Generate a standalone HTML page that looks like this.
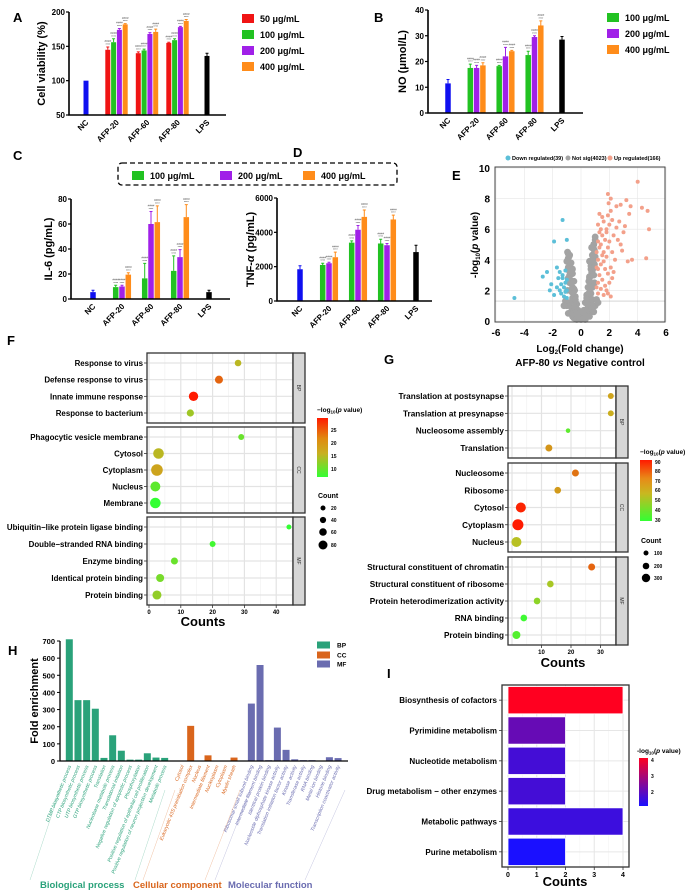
<!DOCTYPE html>
<html><head><meta charset="utf-8">
<style>
html,body{margin:0;padding:0;background:#fff;}
svg{display:block;font-family:"Liberation Sans",Arial,sans-serif;}
</style></head>
<body>
<svg id="fig" xmlns="http://www.w3.org/2000/svg" width="693" height="896" viewBox="0 0 693 896">
<defs>
<linearGradient id="gF" x1="0" y1="0" x2="0" y2="1"><stop offset="0" stop-color="#ff1a00"/><stop offset="0.35" stop-color="#e08a10"/><stop offset="0.6" stop-color="#c8b020"/><stop offset="1" stop-color="#33ff33"/></linearGradient>
<linearGradient id="gG" x1="0" y1="0" x2="0" y2="1"><stop offset="0" stop-color="#ff1a00"/><stop offset="0.3" stop-color="#e88a18"/><stop offset="0.55" stop-color="#c8b820"/><stop offset="1" stop-color="#33ff33"/></linearGradient>
<linearGradient id="gI" x1="0" y1="0" x2="0" y2="1"><stop offset="0" stop-color="#ff0020"/><stop offset="1" stop-color="#1a10ff"/></linearGradient>
</defs>
</svg>
<script>
// ---------- DATA ----------
const barCats=['NC','AFP-20','AFP-60','AFP-80','LPS'];
const A_ticks=[50,100,150,200];
const A_nc=[100]; const A_lps=[136]; const A_lpsErr=[4];
const A_c50=[145,140,155]; const A_c100=[156,144,159]; const A_c200=[174,168,178]; const A_c400=[182,171,187];
const A_e50=[4,2,1]; const A_e100=[5,2,2]; const A_e200=[2,2,1]; const A_e400=[1,4,2];
const B_ticks=[0,10,20,30,40];
const B_nc=[11.5]; const B_ncErr=[1.5]; const B_lps=[28.5]; const B_lpsErr=[1.2];
const B_c100=[17.5,18.2,22.5]; const B_c200=[17.5,22,29.5]; const B_c400=[18.5,24,34];
const B_e100=[1.5,0.3,1.5]; const B_e200=[1,3.5,0.5]; const B_e400=[1,0.3,1.8];
const C_ticks=[0,20,40,60,80];
const C_nc=[5.5]; const C_ncErr=[1.5]; const C_lps=[5.5]; const C_lpsErr=[1.5];
const C_c100=[9.5,16.5,22.5]; const C_c200=[10,60,33.5]; const C_c400=[19.5,61.5,65.5];
const C_e100=[1.5,12,12]; const C_e200=[1,10,6]; const C_e400=[1.5,13,10];
const D_ticks=[0,2000,4000,6000];
const D_nc=[1850]; const D_ncErr=[200]; const D_lps=[2850]; const D_lpsErr=[400];
const D_c100=[2100,3400,3350]; const D_c200=[2200,4150,3250]; const D_c400=[2550,4900,4750];
const D_e100=[100,100,250]; const D_e200=[60,250,100]; const D_e400=[300,400,250];

const volX_ticks=[-6,-4,-2,0,2,4,6]; const volY_ticks=[0,2,4,6,8,10];
const volDown=[[-4.7,1.5],[-2.7,2.9],[-2.4,3.2],[-2.1,2.4],[-1.9,5.2],[-1.3,6.6],[-1.0,5.3],[-1.7,3.5],[-1.5,3.2],[-1.3,2.8],[-1.1,2.5],[-1.0,2.0],[-1.5,2.0],[-1.7,2.2],[-1.2,1.6],[-1.4,1.8],[-2.2,2.0],[-1.1,3.3],[-1.0,1.5],[-1.3,3.0],[-1.6,2.8],[-1.0,2.7],[-1.2,2.2],[-1.9,1.7],[-1.1,1.9],[-1.4,2.4]];
const volNS=[[-0.9,4.4],[-0.8,3.8],[-0.7,3.2],[-0.6,2.6],[-0.5,2.1],[-0.4,1.6],[-0.3,1.1],[-0.2,0.7],[-0.1,0.3],[0,0.1],[0.1,0.3],[0.2,0.7],[0.3,1.2],[0.4,1.7],[0.5,2.2],[0.6,2.8],[0.7,3.4],[0.8,4.0],[0.9,4.7],[1.0,5.3],[1.0,4.2],[0.9,3.0],[0.8,2.2],[0.7,1.8],[-0.9,3.5],[-0.8,2.5],[-0.7,2.0],[-0.6,1.5],[-0.95,2.0],[-0.9,1.2],[-0.5,0.8],[-0.3,0.3],[0.3,0.4],[0.5,0.9],[0.6,1.2],[0.8,1.4],[0.95,2.5],[1.0,1.0],[-1.0,1.0],[-0.7,0.6],[0.7,0.6],[-0.9,0.5],[0.9,0.6],[-0.4,0.3],[0.4,0.3],[-0.6,3.4],[0.6,3.9],[-1.0,3.9],[0.95,3.7],[-0.8,1.0],[0.8,1.0],[-1.1,1.3],[1.1,1.4],[-0.2,0.2],[0.2,0.2],[0,0.4],[-0.5,1.3],[0.5,1.5],[-0.8,3.0],[0.8,3.3],[0.9,5.0],[-0.85,4.2],[-1.2,1.0],[1.2,1.2],[-0.6,0.3],[0.6,0.3],
 [-0.5,0.2],[-0.3,0.1],[0.3,0.1],[0.45,0.3],[-0.55,0.5],[-0.45,0.9],[-0.3,0.6],[0.35,0.7],[0.45,1.1],[-0.6,1.3],[-0.4,1.4],[0.4,1.5],[0.55,1.8],[-0.65,1.9],[-0.45,2.0],[0.5,2.2],[0.65,2.5],[-0.7,2.5],[-0.5,2.6],[0.6,2.9],[0.75,3.2],[-0.75,3.0],[-0.6,3.1],[0.7,3.6],[0.85,3.9],[-0.8,3.6],[-0.7,3.8],[0.8,4.3],[0.95,4.6],[-0.9,4.1],[0.9,5.0],[1.0,5.5],[-0.95,4.5],[-0.8,4.3],[0.75,4.8],[-0.2,0.3],[0.2,0.4],[0,0.2],[-0.1,0.5],[0.1,0.6],[-0.6,2.2],[0.55,2.6],[-0.9,2.8],[0.85,3.0],[-0.85,3.3],[0.95,3.5]];
const volUp=[[4.0,9.1],[1.9,8.3],[2.1,8.0],[1.95,7.7],[2.8,7.6],[3.2,7.9],[3.5,7.5],[4.3,7.4],[4.7,7.2],[2.5,7.5],[1.3,7.0],[4.8,6.0],[3.0,5.8],[3.1,6.2],[2.2,6.6],[1.6,6.5],[1.8,6.0],[4.6,4.1],[3.3,3.9],[3.6,4.0],[2.1,1.6],[1.2,6.3],[1.4,6.0],[1.5,5.6],[1.2,5.2],[1.3,4.8],[1.6,4.5],[1.8,4.2],[1.2,4.0],[1.4,3.7],[1.7,3.4],[1.9,3.1],[1.3,3.0],[1.5,2.7],[1.2,2.5],[1.7,2.3],[1.4,2.1],[1.2,1.8],[1.6,1.7],[2.0,2.5],[2.1,3.5],[2.2,4.5],[2.0,5.2],[2.3,5.6],[2.5,6.1],[2.6,5.3],[2.8,5.0],[2.9,4.6],[2.4,4.0],[1.9,4.8],[1.7,5.3],[1.5,6.8],[1.9,6.9],[2.1,7.2],[1.3,5.8],[1.1,4.5],[1.1,3.5],[1.1,2.2],[1.8,2.0],[2.2,2.8],[1.6,3.9],[2.3,3.2],[1.5,4.3],[2.7,6.5],[1.4,5.0],[1.8,5.8],[2.0,6.3],[1.2,3.4],[1.9,1.8],[3.4,7.0]];

const F_labels=['Response to virus','Defense response to virus','Innate immune response','Response to bacterium','Phagocytic vesicle membrane','Cytosol','Cytoplasm','Nucleus','Membrane','Ubiquitin\u2212like protein ligase binding','Double\u2212stranded RNA binding','Enzyme binding','Identical protein binding','Protein binding'];
const F_counts=[28,22,14,13,29,3,2.5,2,2,44,20,8,3.5,2.5];
const F_sizes=[44,65,85,53,35,103,118,94,103,20,35,50,65,80];
const F_pvals=[16,23,29,14,10,16,18,9,6,6,7,10,11,13];
const F_facets=['BP','CC','MF']; const F_facetN=[4,5,5];
const F_xticks=[0,10,20,30,40];
const G_labels=['Translation at postsynapse','Translation at presynapse','Nucleosome assembly','Translation','Nucleosome','Ribosome','Cytosol','Cytoplasm','Nucleus','Structural constituent of chromatin','Structural constituent of ribosome','Protein heterodimerization activity','RNA binding','Protein binding'];
const G_counts=[33.5,33.5,19,12.5,21.5,15.5,3,2,1.5,27,13,8.5,4,1.5];
const G_sizes=[150,150,70,210,210,190,390,450,390,210,190,190,190,270];
const G_pvals=[62,60,38,65,72,64,88,90,55,75,52,47,32,36];
const G_facetN=[4,5,5];
const G_xticks=[10,20,30];

const H_bpLabels=['DTMP biosynthetic process','CTP biosynthetic process','UTP biosynthetic process','GTP biosynthetic process','Translation','Nucleobase metabolic process','Translational initiation','Negative regulation of apoptotic process','Phosphorylation','Positive regulation of epithelial cell proliferation','Positive regulation of neuron projection development','Metabolic process'];
const H_bpVals=[710,355,355,305,18,150,60,8,8,45,20,18];
const H_ccLabels=['Cytosol','Eukaryotic 43S preinitiation complex','Nucleus','Intermediate filament','Nucleoplasm','Cytoplasm','Myelin sheath'];
const H_ccVals=[2,205,2,33,2,2,20];
const H_mfLabels=['Ribosomal small subunit binding','Intermediate filament binding','Identical protein binding','Nucleoside diphosphate kinase activity','Translation initiation factor activity','Kinase activity','Transferase activity','RNA binding','Metal ion binding','Histone binding','Transcription coactivator activity'];
const H_mfVals=[335,560,5,195,65,10,5,5,2,22,17];
const H_ticks=[0,100,200,300,400,500,600,700];

const I_labels=['Biosynthesis of cofactors','Pyrimidine metabolism','Nucleotide metabolism','Drug metabolism \u2212 other enzymes','Metabolic pathways','Purine metabolism'];
const I_counts=[4,2,2,2,4,2];
const I_pvals=[4.2,2.4,2.0,2.0,1.9,1.5];
const I_ticks=[0,1,2,3,4];

// ---------- HELPERS ----------
const NS='http://www.w3.org/2000/svg';
const svg=document.getElementById('fig');
function mk(tag,attrs,parent){const e=document.createElementNS(NS,tag);for(const k in attrs)e.setAttribute(k,attrs[k]);(parent||svg).appendChild(e);return e;}
function tx(x,y,s,size,extra){const a=Object.assign({x:x,y:y,'font-size':size,'font-weight':'bold',fill:'#000'},extra||{});const e=mk('text',a);e.textContent=s;return e;}
function lerpHex(c1,c2,t){const a=[1,3,5].map(i=>parseInt(c1.substr(i,2),16)),b=[1,3,5].map(i=>parseInt(c2.substr(i,2),16));return 'rgb('+a.map((v,i)=>Math.round(v+(b[i]-v)*t)).join(',')+')';}
function ramp3(v,lo,mid,hi,cLo,cMid,cHi){if(v<=mid)return lerpHex(cLo,cMid,Math.max(0,(v-lo)/(mid-lo)));return lerpHex(cMid,cHi,Math.min(1,(v-mid)/(hi-mid)));}

const COL={c50:'#f01414',c100:'#22c222',c200:'#a020e8',c400:'#ff8c1a',nc:'#1010f0',lps:'#000000'};

[['A',13,22],['B',374,22],['C',13,160],['D',293,157],['E',452,180],['F',7,345],['G',384,364],['H',8,655],['I',387,678]].forEach(p=>{
 const t=tx(p[1],p[2],p[0],13);
 
 
});

// ---------- BAR CHARTS ----------
function barChart(id,ax,xEnd,yTop,yBot,vmin,vmax,ticks,centers,nc,ncErr,lps,lpsErr,series,errs,colors,bw,title,titleX){
 const y=v=>yBot-(v-vmin)/(vmax-vmin)*(yBot-yTop);
 const g=mk('g',{});
 
 
 function bar(cx,v,e,c,nm){
  const r=mk('rect',{x:cx-bw/2,y:y(v),width:bw,height:yBot-y(v),fill:c},g);
  
  
  if(e>0){
   const l=mk('path',{d:`M${cx} ${y(v)}V${y(v+e)}M${cx-1.5} ${y(v+e)}H${cx+1.5}`,stroke:c,'stroke-width':1,fill:'none'},g);
   
   
  }
 }
 bar(centers[0],nc[0],ncErr[0],COL.nc,'bar-nc');
 const n=series.length;
 for(let k=0;k<n;k++){for(let gi=0;gi<3;gi++){
  const cx=centers[gi+1]+(k-(n-1)/2)*(bw+0.8);
  bar(cx,series[k][gi],errs[k][gi],colors[k],'bar-'+barCats[gi+1].toLowerCase()+'-'+k);
  const v=series[k][gi]+errs[k][gi];
  const st=mk('text',{x:cx,y:y(v)-1.5,'font-size':3,'text-anchor':'middle',fill:'#333'},g);st.textContent='****';
  
  
  const st2=mk('text',{x:cx,y:y(v)-4.8,'font-size':3,'text-anchor':'middle',fill:'#666','font-style':'italic'},g);st2.textContent='####';
  
  
 }}
 bar(centers[4],lps[0],lpsErr[0],COL.lps,'bar-lps');
 const axl=mk('path',{d:`M${ax} ${yTop}V${yBot}H${xEnd}`,stroke:'#000','stroke-width':1.6,fill:'none'},g);
 
 
 ticks.forEach(t=>{
  const tl=mk('line',{x1:ax-3,x2:ax,y1:y(t),y2:y(t),stroke:'#000','stroke-width':1.2},g);
  
  
  const tt=tx(ax-4,y(t)+3,String(t),8,{'text-anchor':'end'});
  
  
 });
 barCats.forEach((c,i)=>{
  const t=tx(centers[i]+3,yBot+8,c,8,{'text-anchor':'end',transform:`rotate(-45 ${centers[i]+3} ${yBot+8})`});
  
  
 });
 const cy=(yTop+yBot)/2;
 const tt=tx(titleX,cy,'',11,{'text-anchor':'middle',transform:`rotate(-90 ${titleX} ${cy})`});
 tt.innerHTML=title;
 
 
}
const cA=[86,116.5,147,177.5,207];
barChart('a',69,226,12,115,50,200,A_ticks,cA,A_nc,[0],A_lps,A_lpsErr,[A_c50,A_c100,A_c200,A_c400],[A_e50,A_e100,A_e200,A_e400],[COL.c50,COL.c100,COL.c200,COL.c400],5,'Cell viability (%)',45);
const cB=[448,476.6,505.5,534.5,562];
barChart('b',428,583,10,113,0,40,B_ticks,cB,B_nc,B_ncErr,B_lps,B_lpsErr,[B_c100,B_c200,B_c400],[B_e100,B_e200,B_e400],[COL.c100,COL.c200,COL.c400],5.5,'NO (μmol/L)',406);
const cC=[93,122,151,180,209];
barChart('c',71,230,199,299,0,80,C_ticks,cC,C_nc,C_ncErr,C_lps,C_lpsErr,[C_c100,C_c200,C_c400],[C_e100,C_e200,C_e400],[COL.c100,COL.c200,COL.c400],5.5,'IL-6 (pg/mL)',52);
const cD=[300,329,358,387,416];
barChart('d',277,432,198,301,0,6000,D_ticks,cD,D_nc,D_ncErr,D_lps,D_lpsErr,[D_c100,D_c200,D_c400],[D_e100,D_e200,D_e400],[COL.c100,COL.c200,COL.c400],5.5,'TNF-<tspan font-style="italic">α</tspan> (pg/mL)',254);

function legItem(x,y,c,s,size){
 const r=mk('rect',{x:x,y:y-8,width:12,height:9,fill:c});
 
 
 const t=tx(x+18,y,s,size||9);
 
 
}
legItem(242,22,COL.c50,'50 μg/mL');legItem(242,38,COL.c100,'100 μg/mL');legItem(242,54,COL.c200,'200 μg/mL');legItem(242,70,COL.c400,'400 μg/mL');
legItem(607,21,COL.c100,'100 μg/mL');legItem(607,37,COL.c200,'200 μg/mL');legItem(607,53,COL.c400,'400 μg/mL');
const lbox=mk('rect',{x:118,y:163,width:279,height:22,rx:4,fill:'none',stroke:'#000','stroke-width':1.3,'stroke-dasharray':'5,3'});


legItem(132,179,COL.c100,'100 μg/mL');legItem(220,179,COL.c200,'200 μg/mL');legItem(303,179,COL.c400,'400 μg/mL');

// ---------- VOLCANO ----------
(function(){
 const vx=v=>581+v*14.17, vy=v=>321-v*15.3;
 const L=495,R=665,T=167,B=322;
 const bg=mk('rect',{x:L,y:T,width:R-L,height:B-T,fill:'#fff'});
 
 
 volX_ticks.forEach(t=>{const l=mk('line',{x1:vx(t),x2:vx(t),y1:T,y2:B,stroke:'#e6e6e6','stroke-width':0.6});});
 volY_ticks.forEach(t=>{const l=mk('line',{x1:L,x2:R,y1:vy(t),y2:vy(t),stroke:'#e6e6e6','stroke-width':0.6});});
 const th=mk('line',{x1:L,x2:R,y1:vy(1.3),y2:vy(1.3),stroke:'#bbb','stroke-width':0.6});
 
 
 volNS.forEach(p=>{const c=mk('circle',{cx:vx(p[0]),cy:vy(p[1]),r:3.4,fill:'#a3a3a3'});});
 volDown.forEach(p=>{const c=mk('circle',{cx:vx(p[0]),cy:vy(p[1]),r:2,fill:'#5cbfd8'});});
 volUp.forEach(p=>{const c=mk('circle',{cx:vx(p[0]),cy:vy(p[1]),r:2,fill:'#f3a08a'});});
 const fr=mk('rect',{x:L,y:T,width:R-L,height:B-T,fill:'none',stroke:'#444','stroke-width':1});
 
 
 volY_ticks.forEach(t=>{const s=tx(L-5,vy(t)+4,String(t),10,{'text-anchor':'end'});});
 volX_ticks.forEach(t=>{const s=tx(vx(t),B+14,String(t),10,{'text-anchor':'middle'});});
 const yt=tx(478,245,'',10,{'text-anchor':'middle',transform:'rotate(-90 478 245)'});
 yt.innerHTML='-log<tspan font-size="6" dy="2">10</tspan><tspan dy="-2">(</tspan><tspan font-style="italic">p</tspan> value)';
 
 
 const xt=tx(580,352,'',10,{'text-anchor':'middle'});
 xt.innerHTML='Log<tspan font-size="6" dy="2">2</tspan><tspan dy="-2">(Fold change)</tspan>';
 
 
 const xt2=tx(580,366,'',10,{'text-anchor':'middle'});
 xt2.innerHTML='AFP-80 <tspan font-style="italic">vs</tspan> Negative control';
 
 
 [[508,'#5cbfd8','Down regulated(39)'],[568,'#a3a3a3','Not sig(4023)'],[610,'#f3a08a','Up regulated(166)']].forEach(l=>{
  const c=mk('circle',{cx:l[0],cy:158,r:2.5,fill:l[1]});
  const t=tx(l[0]+4,160,l[2],5.5);
 });
})();

// ---------- DOT PLOTS F, G ----------
function dotPlot(id,labels,counts,sizes,pvals,facetN,facets,left,right,x0,scale,xticks,minorStep,majorStep,xmaxGrid,rfn,cfn,lblSize){
 let idx=0;
 facets.forEach((f,fi)=>{
  const top=f[0],bot=f[1],n=facetN[fi];
  const bg=mk('rect',{x:left,y:top,width:right-left,height:bot-top,fill:'#fff'});
  
  
  for(let v=0;v<=xmaxGrid;v+=minorStep){
   const major=(v%majorStep===0);
   const l=mk('line',{x1:x0+v*scale,x2:x0+v*scale,y1:top,y2:bot,stroke:major?'#e3e3e3':'#efefef','stroke-width':major?1.2:0.6});
   
  }
  const sp=(bot-top-20)/(n-1);
  for(let i=0;i<n;i++){
   const yy=top+10+i*sp;
   const l=mk('line',{x1:left,x2:right,y1:yy,y2:yy,stroke:'#e3e3e3','stroke-width':1.2});
   
   const tk=mk('line',{x1:left-3,x2:left,y1:yy,y2:yy,stroke:'#333','stroke-width':0.8});
   
   const t=tx(left-4,yy+3,labels[idx],lblSize,{'text-anchor':'end'});
   
   const c=mk('circle',{cx:x0+counts[idx]*scale,cy:yy,r:rfn(sizes[idx]),fill:cfn(pvals[idx])});
   
   
   idx++;
  }
  const fr=mk('rect',{x:left,y:top,width:right-left,height:bot-top,fill:'none',stroke:'#333','stroke-width':1.3});
  
  const st=mk('rect',{x:right,y:top,width:12,height:bot-top,fill:'#d6d6d6',stroke:'#333','stroke-width':1.3});
  
  const cy=(top+bot)/2;
  const s=tx(right+4,cy,F_facets[fi],5,{'text-anchor':'middle','font-weight':'normal',fill:'#333',transform:`rotate(90 ${right+4} ${cy})`});
  
 });
 const lastBot=facets[facets.length-1][1];
 xticks.forEach(t=>{
  const tk=mk('line',{x1:x0+t*scale,x2:x0+t*scale,y1:lastBot,y2:lastBot+3,stroke:'#333','stroke-width':0.8});
  
  const s=tx(x0+t*scale,lastBot+9,String(t),6,{'text-anchor':'middle'});
  
 });
}
dotPlot('f',F_labels,F_counts,F_sizes,F_pvals,F_facetN,[[353,423],[427,513],[517,605]],147,293,149,3.18,F_xticks,5,10,45,
 s=>1.8+0.034*s, p=>ramp3(p,6,17,29,'#33ff33','#c8b020','#ff1a00'),7.9);
const fc=tx(203,626,'Counts',13,{'text-anchor':'middle'});

dotPlot('g',G_labels,G_counts,G_sizes,G_pvals,G_facetN,[[386,458],[463,552],[557,645]],508,616,512,2.95,G_xticks,5,10,35,
 s=>1.7+0.0085*s, p=>ramp3(p,30,58,90,'#33ff33','#c8b820','#ff1a00'),8.2);
const gc=tx(563,667,'Counts',13,{'text-anchor':'middle'});


function colorLegend(x,y,w,h,grad,title,labels,labelYs,countTitleY,countVals,countYs,countR){
 const t=tx(x,y-6,'',6.5);
 t.innerHTML='\u2212log<tspan font-size="4.5" dy="1.5">10</tspan><tspan dy="-1.5">(</tspan><tspan font-style="italic">p</tspan> value)';
 
 const r=mk('rect',{x:x,y:y,width:w,height:h,fill:'url(#'+grad+')'});
 
 labels.forEach((l,i)=>{const s=tx(x+w+3,labelYs[i]+2,String(l),5);});
 if(countVals){
  const ct=tx(x+1,countTitleY,'Count',7);
  
  countVals.forEach((v,i)=>{
   const c=mk('circle',{cx:x+6,cy:countYs[i],r:countR[i],fill:'#000'});
   
   const s=tx(x+14,countYs[i]+2,String(v),5);
  });
 }
}
colorLegend(317,418,11,59,'gF','',[25,20,15,10],[430,443,456,469],498,[20,40,60,80],[508,520,532,545],[2.5,3.1,3.8,4.5]);
colorLegend(640,460,12,61,'gG','',[90,80,70,60,50,40,30],[462,471,481,490,500,510,520],543,[100,200,300],[553,566,578],[2.5,3.3,4.2]);

// ---------- H ----------
(function(){
 const ax=60,yB=761,yT=641,x0=69.3,step=8.67,bw=7;
 const y=v=>yB-v/700*(yB-yT);
 const groups=[[H_bpLabels,H_bpVals,0,'#2aa27a','bp'],[H_ccLabels,H_ccVals,13,'#d9651c','cc'],[H_mfLabels,H_mfVals,21,'#6a6cb0','mf']];
 groups.forEach(g=>{
  g[1].forEach((v,i)=>{
   const cx=x0+(g[2]+i)*step;
   const r=mk('rect',{x:cx-bw/2,y:y(v),width:bw,height:yB-y(v),fill:g[3]});
   
   const lx=cx+2,ly=yB+5;
   const t=tx(lx,ly,g[0][i],5,{'text-anchor':'end','font-weight':'normal','font-style':'italic',fill:g[3],transform:`rotate(-68 ${lx} ${ly})`});
   
  });
 });
 const axl=mk('path',{d:`M${ax} ${yT}V${yB}H348`,stroke:'#000','stroke-width':1.3,fill:'none'});
 
 H_ticks.forEach(t=>{
  const l=mk('line',{x1:ax-3,x2:ax,y1:y(t),y2:y(t),stroke:'#000','stroke-width':1});
  
  const s=tx(ax-5,y(t)+3,String(t),7.5,{'text-anchor':'end'});
  
 });
 const yt=tx(38,701,'Fold enrichment',11,{'text-anchor':'middle',transform:'rotate(-90 38 701)'});
 
 [[40,'#2aa27a','Biological process','bp'],[133,'#d9651c','Cellular component','cc'],[228,'#6a6cb0','Molecular function','mf']].forEach(g=>{
  const s=tx(g[0],888,g[2],9.5,{fill:g[1]});
  
 });
 [[30,880,60,790,'#2aa27a'],[135,880,165,790,'#2aa27a'],[143,880,175,790,'#d9651c'],[205,880,240,790,'#d9651c'],[215,880,250,790,'#6a6cb0'],[305,880,345,790,'#6a6cb0']].forEach(l=>{
  const ln=mk('line',{x1:l[0],y1:l[1],x2:l[2],y2:l[3],stroke:l[4],'stroke-width':0.4,opacity:0.5});
  
 });
 [[645,'#2aa27a','BP'],[655,'#d9651c','CC'],[664,'#6a6cb0','MF']].forEach(l=>{
  const r=mk('rect',{x:317,y:l[0]-3.5,width:13,height:7,fill:l[1]});
  
  const s=tx(337,l[0]+2.5,l[2],6.5);
  
 });
})();

// ---------- I ----------
(function(){
 const L=502,R=629,T=685,B=867,x0=508,sc=28.75;
 const bg=mk('rect',{x:L,y:T,width:R-L,height:B-T,fill:'#fff'});
 
 for(let v=0;v<=4;v+=0.5){
  const l=mk('line',{x1:x0+v*sc,x2:x0+v*sc,y1:T,y2:B,stroke:v%1===0?'#e6e6e6':'#f2f2f2','stroke-width':v%1===0?1:0.5});
  
 }
 const sp=(B-T)/I_labels.length;
 I_labels.forEach((lab,i)=>{
  const cy=T+sp*(i+0.5);
  const l=mk('line',{x1:L,x2:R,y1:cy,y2:cy,stroke:'#e6e6e6','stroke-width':1});
  
  const col=lerpHex('#1a10ff','#ff0020',Math.max(0,Math.min(1,(I_pvals[i]-1.5)/(4.2-1.5))));
  const r=mk('rect',{x:x0,y:cy-sp*0.45,width:I_counts[i]*sc,height:sp*0.9,fill:col,stroke:'#fff','stroke-width':0.8});
  
  const tk=mk('line',{x1:L-3,x2:L,y1:cy,y2:cy,stroke:'#333','stroke-width':0.8});
  
  const t=tx(L-5,cy+3,lab,8,{'text-anchor':'end'});
  
 });
 const fr=mk('rect',{x:L,y:T,width:R-L,height:B-T,fill:'none',stroke:'#333','stroke-width':1.3});
 
 I_ticks.forEach(t=>{
  const tk=mk('line',{x1:x0+t*sc,x2:x0+t*sc,y1:B,y2:B+3,stroke:'#333','stroke-width':0.8});
  
  const s=tx(x0+t*sc,B+10,String(t),7,{'text-anchor':'middle'});
  
 });
 const xt=tx(565,886,'Counts',13,{'text-anchor':'middle'});
 
 const t=tx(637,753,'',6.5);
 t.innerHTML='-log<tspan font-size="4.5" dy="1.5">10</tspan><tspan dy="-1.5">(</tspan><tspan font-style="italic">p</tspan> value)';
 
 const cb=mk('rect',{x:639,y:758,width:9,height:48,fill:'url(#gI)'});
 
 [[4,760],[3,776],[2,792]].forEach(l=>{const s=tx(651,l[1]+2,String(l[0]),5);});
})();
</script>
</body></html>
